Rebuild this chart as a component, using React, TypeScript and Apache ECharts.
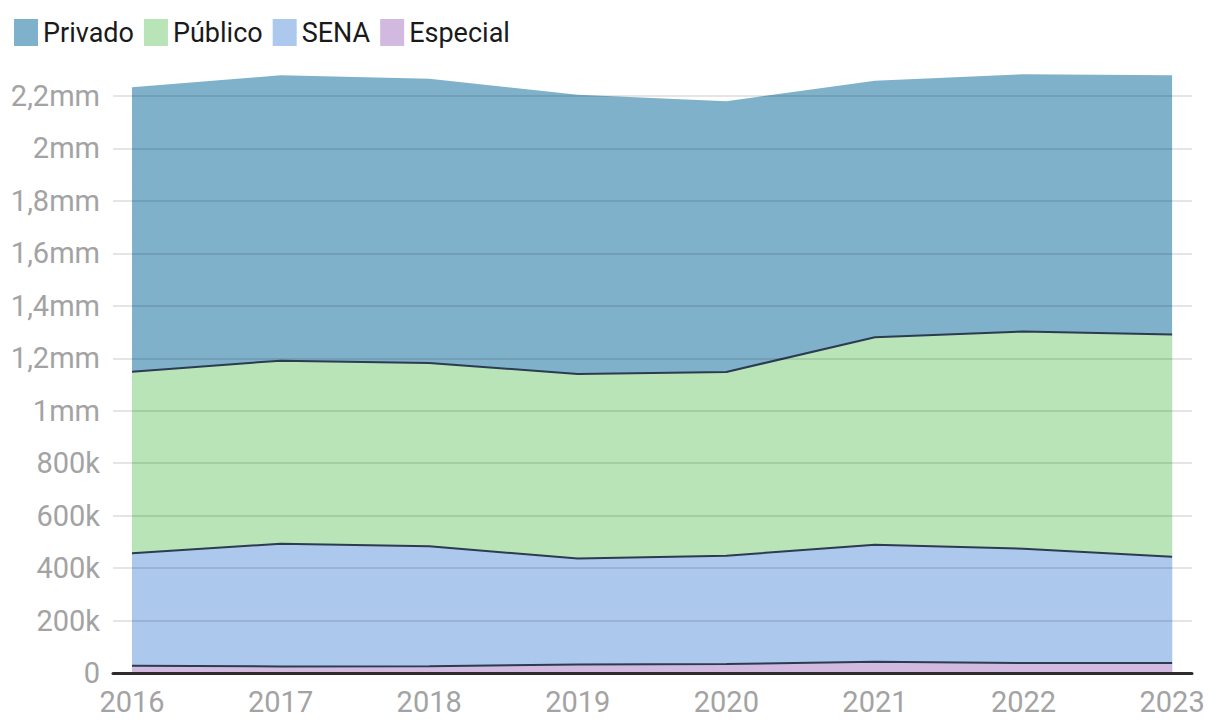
import React, { useEffect, useRef } from "react";
import * as echarts from "echarts";

const years = [2016, 2017, 2018, 2019, 2020, 2021, 2022, 2023];
// values in thousands
const especial = [28, 25, 26, 32, 34, 43, 38, 38];
const sena = [429, 468, 457, 405, 413, 446, 436, 405];
const publico = [692, 698, 699, 703, 701, 791, 828, 848];
const privado = [1084, 1088, 1084, 1065, 1032, 978, 981, 988];

const seriesNames = ["Especial", "SENA", "Público", "Privado"];
const seriesValues = [especial, sena, publico, privado];
const seriesColors = ["#d1b9e0", "#acc8ec", "#b9e4b8", "#7fb1cb"];
const legendOrder = ["Privado", "Público", "SENA", "Especial"];

function fmtY(v: number): string {
  if (v === 0) return "0";
  if (v < 1000000) return `${Math.round(v / 1000)}k`;
  const m = v / 1000000;
  return `${String(Math.round(m * 10) / 10).replace(".", ",")}mm`;
}

// cumulative tops (stack computed here; areas drawn from largest to smallest)
const cumulative = seriesValues.map((_, i) =>
  years.map((_, j) => {
    let s = 0;
    for (let k = 0; k <= i; k++) s += seriesValues[k][j];
    return s;
  })
);

export default function App() {
  const ref = useRef<HTMLDivElement>(null);
  useEffect(() => {
    if (!ref.current) return;
    const chart = echarts.init(ref.current, undefined, { renderer: "svg" });
    const order = [3, 2, 1, 0];
    chart.setOption({
      animation: false,
      backgroundColor: "#ffffff",
      legend: {
        data: legendOrder,
        left: 9,
        top: 14,
        icon: "rect",
        itemWidth: 24,
        itemHeight: 27,
        itemGap: 10,
        itemStyle: { borderWidth: 0 },
        lineStyle: { width: 0 },
        textStyle: {
          fontSize: 27,
          color: "#1a1a1a",
          fontFamily: "'Arial Narrow', 'Liberation Sans Narrow', Roboto, sans-serif",
        },
      },
      grid: { left: 113, right: 28, top: 96, bottom: 53 },
      xAxis: {
        type: "value",
        min: 2015.872,
        max: 2023.134,
        z: 4,
        splitLine: { show: false },
        axisTick: { show: false },
        axisLine: { show: true, lineStyle: { color: "#2f2a2e", width: 3 } },
        axisLabel: {
          customValues: years,
          formatter: (v: number) => String(v),
          fontSize: 29,
          color: "#a3a3a3",
          margin: 14,
          fontFamily: "Roboto, sans-serif",
        },
      },
      yAxis: {
        type: "value",
        min: 0,
        max: 2200000,
        interval: 200000,
        z: 3,
        axisLine: { show: false },
        axisTick: { show: false },
        splitLine: { show: true, lineStyle: { color: "rgba(0,0,0,0.1)", width: 2 } },
        axisLabel: {
          formatter: fmtY,
          fontSize: 29,
          color: "#a3a3a3",
          margin: 13,
          fontFamily: "Roboto, sans-serif",
        },
      },
      series: order.map((i) => ({
        name: seriesNames[i],
        type: "line",
        clip: false,
        symbol: "none",
        showSymbol: false,
        z: 2,
        itemStyle: { color: seriesColors[i] },
        lineStyle: {
          color: "#2c3b4f",
          width: seriesNames[i] === "Privado" ? 0 : 2,
        },
        areaStyle: { color: seriesColors[i], opacity: 1, origin: "start" },
        data: years.map((y, j) => [y, cumulative[i][j] * 1000]),
      })),
    });
    return () => chart.dispose();
  }, []);
  return (
    <div
      ref={ref}
      style={{ position: "fixed", left: 0, top: 0, width: 1220, height: 726 }}
    />
  );
}
